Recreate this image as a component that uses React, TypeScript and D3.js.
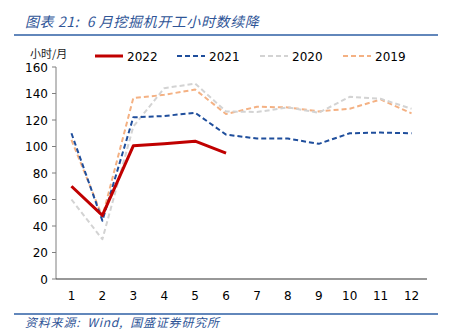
import React from "react";
import * as d3 from "d3";

const months = ["1", "2", "3", "4", "5", "6", "7", "8", "9", "10", "11", "12"];
const yTicks = [0, 20, 40, 60, 80, 100, 120, 140, 160];
const s2022 = [70, 48, 100.5, 102, 104, 95];
const s2021 = [110, 44, 122, 123, 125.5, 109, 106, 106, 102, 110, 110.5, 110];
const s2020 = [60, 30, 115, 144, 147.5, 126.5, 126, 129.5, 125.5, 137.5, 136, 128.5];
const s2019 = [105, 47, 136.5, 139, 143, 124.5, 130, 129.5, 126.5, 128.5, 135.5, 125];

const series = [
  { name: "2022", values: s2022, color: "#C00000", width: 3, dash: "" },
  { name: "2021", values: s2021, color: "#1F4E9C", width: 2, dash: "5,3" },
  { name: "2020", values: s2020, color: "#D3D3D3", width: 2, dash: "5,3" },
  { name: "2019", values: s2019, color: "#F4B183", width: 2, dash: "5,3" },
];

export default function App() {
  const W = 455, H = 332;
  const x0 = 56, x1 = 427, yTop = 67, yBot = 279;
  const x = d3.scaleBand().domain(months).range([x0, x1]);
  const y = d3.scaleLinear().domain([0, 160]).range([yBot, yTop]);
  const line = (vals: number[]) =>
    d3.line<number>()
      .x((_, i) => (x(months[i]) as number) + x.bandwidth() / 2)
      .y((v) => y(v))(vals) as string;
  const font = "DejaVu Sans, Verdana, sans-serif";
  const cjk = "'Noto Sans CJK SC', sans-serif";
  const legendX = [95, 177, 260, 343];
  return (
    <svg width={W} height={H} style={{ position: "absolute", left: 0, top: 0, background: "#fff" }}>
      <text x={25} y={27} fontFamily={cjk} fontSize={14} fontStyle="italic" fill="#2F5597"
        xmlSpace="preserve" letterSpacing={0.6}>
        {"图表 21:  6 月挖掘机开工小时数续降"}
      </text>
      <line x1={14} x2={438} y1={35} y2={35} stroke="#2E5FA5" strokeWidth={1.5} />
      <text x={30} y={58} fontFamily={cjk} fontSize={11} fill="#222">小时/月</text>
      {series.map((s, i) => (
        <g key={s.name}>
          <line x1={legendX[i]} x2={legendX[i] + 28} y1={56} y2={56} stroke={s.color}
            strokeWidth={s.width} strokeDasharray={s.dash} />
          <text x={legendX[i] + 32} y={61} fontFamily={font} fontSize={12} fill="#000">{s.name}</text>
        </g>
      ))}
      <line x1={x0} x2={x0} y1={yTop} y2={yBot} stroke="#7F7F7F" strokeWidth={1} />
      <line x1={x0} x2={x1} y1={yBot} y2={yBot} stroke="#333" strokeWidth={1.2} />
      {yTicks.map((t) => (
        <g key={t}>
          <line x1={x0 - 4} x2={x0} y1={y(t)} y2={y(t)} stroke="#7F7F7F" />
          <text x={x0 - 8} y={y(t) + 4.5} textAnchor="end" fontFamily={font} fontSize={12} fill="#000">{t}</text>
        </g>
      ))}
      {months.map((m) => (
        <text key={m} x={(x(m) as number) + x.bandwidth() / 2} y={300} textAnchor="middle"
          fontFamily={font} fontSize={12} fill="#000">{m}</text>
      ))}
      {[...series].reverse().map((s) => (
        <path key={s.name} d={line(s.values)} fill="none" stroke={s.color} strokeWidth={s.width}
          strokeDasharray={s.dash} strokeLinejoin="round" />
      ))}
      <line x1={14} x2={438} y1={314} y2={314} stroke="#2E5FA5" strokeWidth={1.5} />
      <text x={25} y={327} fontFamily={cjk} fontSize={12} fontStyle="italic" fill="#2F5597"
        xmlSpace="preserve" letterSpacing={0.8}>
        {"资料来源:  Wind,  国盛证券研究所"}
      </text>
    </svg>
  );
}
